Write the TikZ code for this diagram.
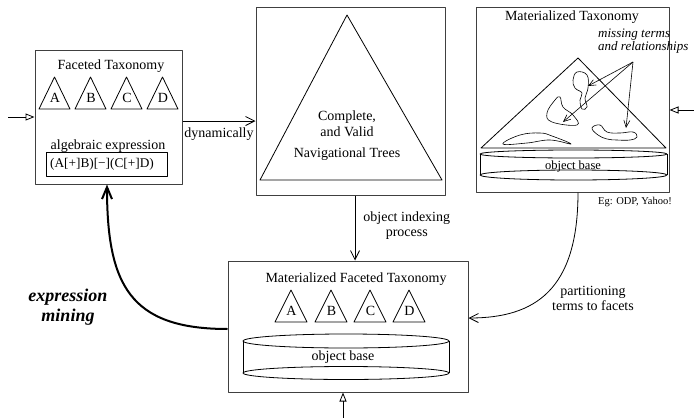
\documentclass[tikz,border=0pt]{standalone}
\usepackage{fontspec}
\setmainfont{Liberation Serif}
\usetikzlibrary{arrows.meta}

\tikzset{
  box/.style={draw=black!75, line width=1pt, inner sep=0pt},
  inarrow/.style={-{Triangle[open,length=9pt,width=7pt]}, line width=0.8pt},
  flow/.style={-{Straight Barb[length=9pt,width=9pt]}, line width=0.8pt},
  hint/.style={-{Straight Barb[length=7pt,width=6pt]}, line width=0.6pt},
  mining/.style={-{Straight Barb[length=12pt,width=10pt]}, line width=2pt},
  lbl/.style={font=\fontsize{14}{15}\selectfont, align=center, inner sep=0pt}
}

\begin{document}
\begin{tikzpicture}[x=1pt,y=-1pt,line join=round]
\useasboundingbox (0,0) rectangle (694,418);

% boxes
\node[box, minimum width=147pt, minimum height=134pt] (facet) at (108.5,117) {};
\node[box, minimum width=189pt, minimum height=188pt] (trees) at (350.5,101) {};
\node[box, minimum width=193pt, minimum height=185pt] (mtax) at (572.5,99.5) {};
\node[box, minimum width=240pt, minimum height=131pt] (mft) at (348,326.5) {};

% faceted taxonomy
\node[lbl] (facettitle) at (111,66) {Faceted Taxonomy};
\draw[line width=0.8pt] (39,109) -- (54.5,77) -- (70,109) -- cycle;
\draw[line width=0.8pt] (75,109) -- (90.5,77) -- (106,109) -- cycle;
\draw[line width=0.8pt] (111,109) -- (126.5,77) -- (142,109) -- cycle;
\draw[line width=0.8pt] (147,109) -- (162.5,77) -- (178,109) -- cycle;
\node[lbl] (fa) at (55,98) {A};
\node[lbl] (fb) at (91,98) {B};
\node[lbl] (fc) at (127,98) {C};
\node[lbl] (fd) at (163,98) {D};
\node[lbl] (algtitle) at (108,146) {algebraic expression};
\node[draw, line width=0.8pt, minimum width=121pt, minimum height=24pt, inner sep=0pt] (alg) at (106.5,164) {};
\node[lbl, font=\fontsize{13.3}{15}\selectfont] (algtext) at (102,164.5) {(A[+]B)[−](C[+]D)};

% navigational trees
\draw[line width=0.8pt] (260,180) -- (347,15) -- (442,180) -- cycle;
\node[lbl] (nt1) at (347,117) {Complete,};
\node[lbl] (nt2) at (347,132) {and Valid};
\node[lbl] (nt3) at (347,154) {Navigational Trees};

% materialized taxonomy
\node[lbl] (mtaxtitle) at (572,17) {Materialized Taxonomy};
\node[font=\fontsize{13}{11}\selectfont\itshape, align=left, inner sep=0pt, anchor=north west] (missing) at (598,29) {missing terms\\and relationships};
\draw[line width=0.8pt] (481,148) -- (578,58) -- (666,148) -- cycle;
\draw[line width=0.6pt] plot[smooth cycle, tension=0.7] coordinates {(577,72) (587,75) (588,88) (585,98) (587,107) (582,109) (580,100) (582,93) (575,88) (573,80)};
\draw[line width=0.6pt] plot[smooth cycle, tension=0.7] coordinates {(555,100) (547,113) (552,122) (577,125) (573,115) (563,107) (560,97)};
\draw[line width=0.6pt] plot[smooth cycle, tension=0.7] coordinates {(503,144) (520,135) (540,133) (552,136) (571,144) (550,140) (527,143)};
\draw[line width=0.6pt] plot[smooth cycle, tension=0.7] coordinates {(592,128) (600,125) (607,132) (620,133) (633,132) (637,137) (630,140) (617,140) (607,139) (598,135)};
\coordinate (hintsrc) at (633,62);
\coordinate (hint1) at (588,86);
\coordinate (hint2) at (563,122);
\coordinate (hint3) at (626,128);
\draw[hint] (hintsrc) -- (hint1);
\draw[hint] (hintsrc) -- (hint2);
\draw[hint] (hintsrc) -- (hint3);
\draw[line width=0.8pt] (573.5,154) ellipse (93.5pt and 4pt);
\draw[line width=0.8pt] (573.5,175) ellipse (93.5pt and 5pt);
\draw[line width=0.8pt] (480,154) -- (480,175);
\draw[line width=0.8pt] (667,154) -- (667,175);
\node[font=\fontsize{12.5}{14}\selectfont, inner sep=0pt] (mtaxbase) at (573,166) {object base};
\node[font=\fontsize{10.5}{12}\selectfont, inner sep=0pt] (eg) at (635,202) {Eg: ODP, Yahoo!};

% materialized faceted taxonomy
\node[lbl] (mfttitle) at (356,279) {Materialized Faceted Taxonomy};
\draw[line width=0.8pt] (275,322) -- (291,290) -- (307,322) -- cycle;
\draw[line width=0.8pt] (315,322) -- (331,290) -- (347,322) -- cycle;
\draw[line width=0.8pt] (354,322) -- (370,290) -- (386,322) -- cycle;
\draw[line width=0.8pt] (393,322) -- (409,290) -- (425,322) -- cycle;
\node[lbl] (ma) at (291.5,311) {A};
\node[lbl] (mb) at (331.5,311) {B};
\node[lbl] (mc) at (370.5,311) {C};
\node[lbl] (md) at (409.5,311) {D};
\draw[line width=0.8pt] (346,341) ellipse (103pt and 7pt);
\draw[line width=0.8pt] (346,373) ellipse (103pt and 6.5pt);
\draw[line width=0.8pt] (243,341) -- (243,373);
\draw[line width=0.8pt] (449,341) -- (449,373);
\node[font=\fontsize{14}{16}\selectfont, inner sep=0pt] (mftbase) at (343,357) {object base};

% connectors
\coordinate (inL) at (8,117);
\coordinate (inR) at (694,110);
\coordinate (inB) at (343,418);
\draw[inarrow] (inL) -- (facet.west);
\draw[inarrow] (inR) -- (inR -| mtax.east);
\draw[inarrow] (inB) -- (inB |- mft.south);
\draw[flow] ([yshift=-4pt]facet.east) -- ([yshift=-4pt]facet.east -| trees.west)
  node[lbl, midway, below=6pt] (dyn) {dynamically};
\draw[flow] ([xshift=4.5pt]trees.south) -- ([xshift=4.5pt]trees.south |- mft.north)
  node[lbl, pos=0.46, right=8pt, align=center] (oip) {object indexing\\process};
\draw[flow] ([xshift=5.5pt]mtax.south) .. controls (578,290) and (535,318) .. ([yshift=8.5pt]mft.east);
\node[lbl] (part) at (593,298) {partitioning\\terms to facets};
\draw[mining] ([yshift=-2.5pt]mft.west) .. controls (130,329) and (107,285) .. ([xshift=-1.5pt]facet.south);
\node[font=\fontsize{18}{20}\selectfont\bfseries\itshape, align=center, inner sep=0pt] (mine) at (68,307) {expression\\mining};
\end{tikzpicture}
\end{document}
